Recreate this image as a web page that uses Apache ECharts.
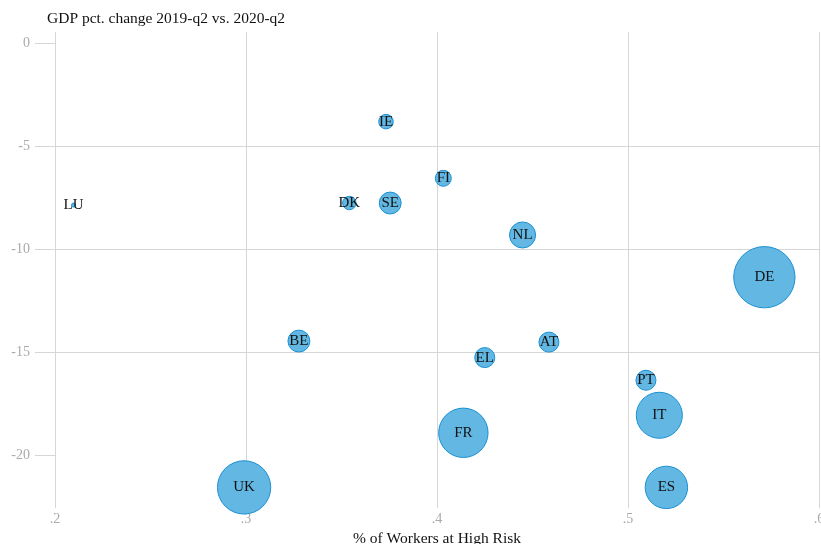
<!DOCTYPE html>
<html>
<head>
<meta charset="utf-8">
<style>
	html, body { margin: 0; padding: 0; background: #fff; }
	#gdpChart { width: 821px; height: 544px; }
</style>
<script src="https://cdn.jsdelivr.net/npm/echarts@6/dist/echarts.min.js"></script>
</head>
<body>
<div id="gdpChart"></div>
<script>
	// country codes
	var countries = ['LU', 'IE', 'FI', 'DK', 'SE', 'NL', 'DE', 'BE', 'AT', 'EL', 'PT', 'IT', 'FR', 'UK', 'ES'];
	// share of workers at high risk
	var riskShare = [0.2097, 0.3733, 0.4033, 0.3541, 0.3755, 0.4448, 0.5714, 0.3277, 0.4586, 0.4250, 0.5094, 0.5164, 0.4138, 0.2990, 0.5201];
	// GDP pct. change 2019-q2 vs 2020-q2
	var gdpChange = [-7.85, -3.80, -6.55, -7.75, -7.75, -9.30, -11.35, -14.45, -14.50, -15.25, -16.35, -18.05, -18.90, -21.55, -21.55];
	// bubble weight (workers, millions)
	var workers = [0.4, 5.3, 6.4, 4.5, 12, 17, 94, 12, 10, 10, 10, 53, 61, 71, 45];

	var xTicks = [0.2, 0.3, 0.4, 0.5, 0.6];
	var yTicks = [0, -5, -10, -15, -20];

	var chart = echarts.init(document.getElementById('gdpChart'));
	var font = '"Liberation Serif", "DejaVu Serif", serif';

	var points = countries.map(function (c, i) {
		return {
			name: c,
			value: [riskShare[i], gdpChange[i], workers[i]]
		};
	});

	var option = {
		animation: false,
		textStyle: { fontFamily: font },
		title: {
			text: 'GDP pct. change 2019-q2 vs. 2020-q2',
			left: 42,
			top: 6,
			textStyle: { fontFamily: font, fontSize: 15.5, fontWeight: 'normal', color: '#111' }
		},
		grid: {
			left: 55,
			right: 2,
			top: 32,
			bottom: 36,
			outerBoundsMode: 'none'
		},
		xAxis: {
			type: 'value',
			min: 0.2,
			max: 0.6,
			interval: 0.1,
			name: '% of Workers at High Risk',
			nameLocation: 'middle',
			nameGap: 22,
			nameTextStyle: { fontFamily: font, fontSize: 15.5, color: '#111' },
			axisLine: { show: false },
			axisTick: { show: false },
			axisLabel: {
				margin: 4,
				fontFamily: font,
				fontSize: 14,
				color: '#aaa',
				customValues: xTicks,
				formatter: function (v) {
					return String(Math.round(v * 10) / 10).replace(/^0/, '');
				}
			},
			splitLine: { lineStyle: { color: '#d6d6d6', width: 1 } }
		},
		yAxis: {
			type: 'value',
			min: -22.55,
			max: 0.55,
			axisLine: { show: false },
			axisTick: {
				show: true,
				length: 20,
				customValues: yTicks,
				lineStyle: { color: '#d6d6d6' }
			},
			axisLabel: {
				margin: 25,
				fontFamily: font,
				fontSize: 14,
				color: '#aaa',
				customValues: yTicks
			},
			splitLine: {
				showMinLine: false,
				showMaxLine: false,
				lineStyle: { color: '#d6d6d6', width: 1 }
			}
		},
		series: [{
			type: 'scatter',
			data: points,
			symbolSize: function (v) {
				return 2 * Math.sqrt(v[2] * 10);
			},
			itemStyle: {
				color: '#62b8e3',
				opacity: 1,
				borderColor: '#1a8fd3',
				borderWidth: 1
			},
			label: {
				show: true,
				position: 'inside',
				formatter: '{b}',
				fontFamily: font,
				fontSize: 15,
				color: '#111'
			}
		}]
	};
	chart.setOption(option);
</script>
</body>
</html>
